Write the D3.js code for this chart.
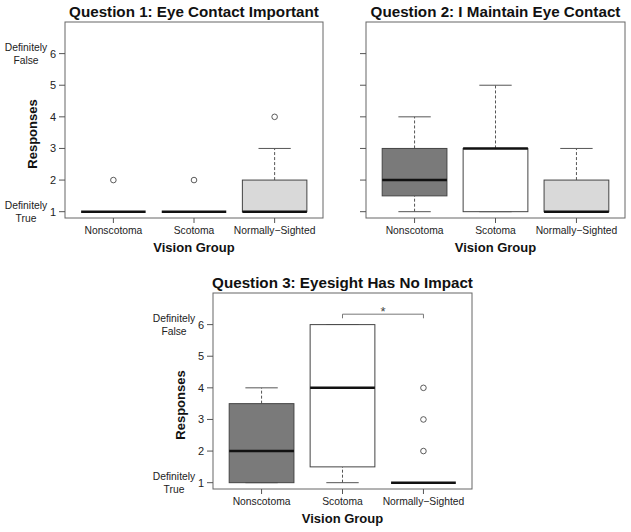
<!DOCTYPE html>
<html>
<head>
<meta charset="utf-8">
<script src="https://cdn.jsdelivr.net/npm/d3@7"></script>
<style>
  body { margin: 0; background: #fff; }
  svg { display: block; font-family: "Liberation Sans", Arial, sans-serif; }
</style>
</head>
<body>
<svg id="chart" width="631" height="532"></svg>
<script>
// groups and fills
const groups = ["Nonscotoma", "Scotoma", "Normally\u2212Sighted"];
const groupFills = ["#7a7a7a", "#ffffff", "#d9d9d9"];
const yTicks = [1, 2, 3, 4, 5, 6];

// box stats per group: [lower whisker, Q1, median, Q3, upper whisker]
const q1Stats = [[1, 1, 1, 1, 1], [1, 1, 1, 1, 1], [1, 1, 1, 2, 3]];
const q1Outliers = [[2], [2], [4]];
const q2Stats = [[1, 1.5, 2, 3, 4], [1, 1, 3, 3, 5], [1, 1, 1, 2, 3]];
const q2Outliers = [[], [], []];
const q3Stats = [[1, 1, 2, 3.5, 4], [1, 1.5, 4, 6, 6], [1, 1, 1, 1, 1]];
const q3Outliers = [[], [], [2, 3, 4]];

const titles = [
    "Question 1: Eye Contact Important",
    "Question 2: I Maintain Eye Contact",
    "Question 3: Eyesight Has No Impact"
];

const svg = d3.select('#chart');

const panels = [
    {title: titles[0], stats: q1Stats, outliers: q1Outliers, left: 65, top: 22, right: 323, bottom: 218, labels: true},
    {title: titles[1], stats: q2Stats, outliers: q2Outliers, left: 366, top: 22, right: 625, bottom: 218, labels: false},
    {title: titles[2], stats: q3Stats, outliers: q3Outliers, left: 213, top: 293, right: 472, bottom: 489, labels: true, bracket: [2, 3]}
];

const drawPanel = (p) => {
    const g = svg.append('g');
    const x = d3.scaleLinear().domain([0.4, 3.6]).range([p.left, p.right]);
    const y = d3.scaleLinear().domain([0.8, 7]).range([p.bottom, p.top]);
    const bw = x(1.8) - x(1);   // box width (0.8 units)
    const cx = (d, i) => x(i + 1);

    // boxes
    g.selectAll('g.box')
        .data(p.stats)
        .enter()
        .append('g')
        .attr('class', 'box')
        .each(function(d, i) {
            const gg = d3.select(this);
            const c = cx(d, i);
            // whiskers
            [[d[0], d[1]], [d[3], d[4]]].forEach(w => {
                gg.append('line')
                    .attr('x1', c).attr('x2', c)
                    .attr('y1', y(w[0])).attr('y2', y(w[1]))
                    .attr('stroke', '#555')
                    .attr('stroke-dasharray', '3,2');
            });
            [d[0], d[4]].forEach(v => {
                gg.append('line')
                    .attr('x1', c - bw / 4).attr('x2', c + bw / 4)
                    .attr('y1', y(v)).attr('y2', y(v))
                    .attr('stroke', '#555');
            });
            gg.append('rect')
                .attr('x', c - bw / 2)
                .attr('y', y(d[3]))
                .attr('width', bw)
                .attr('height', y(d[1]) - y(d[3]))
                .attr('fill', groupFills[i])
                .attr('stroke', '#444')
                .attr('stroke-width', 1);
            gg.append('line')
                .attr('x1', c - bw / 2).attr('x2', c + bw / 2)
                .attr('y1', y(d[2])).attr('y2', y(d[2]))
                .attr('stroke', '#111')
                .attr('stroke-width', 2.5);
            p.outliers[i].forEach(o => {
                gg.append('circle')
                    .attr('cx', c).attr('cy', y(o))
                    .attr('r', 2.8)
                    .attr('fill', 'none')
                    .attr('stroke', '#333')
                    .attr('stroke-width', 0.8);
            });
        });

    // frame
    g.append('rect')
        .attr('x', p.left).attr('y', p.top)
        .attr('width', p.right - p.left).attr('height', p.bottom - p.top)
        .attr('fill', 'none')
        .attr('stroke', '#666');

    // x axis
    const xa = g.append('g').attr('font-size', '10.3px').attr('fill', '#222');
    groups.forEach((name, i) => {
        xa.append('line')
            .attr('x1', x(i + 1)).attr('x2', x(i + 1))
            .attr('y1', p.bottom).attr('y2', p.bottom + 5)
            .attr('stroke', '#555');
        xa.append('text')
            .attr('x', x(i + 1)).attr('y', p.bottom + 16)
            .attr('text-anchor', 'middle')
            .text(name);
    });

    // y axis
    const ya = g.append('g').attr('font-size', '10.3px').attr('fill', '#222');
    yTicks.forEach(t => {
        ya.append('line')
            .attr('x1', p.left - 6).attr('x2', p.left)
            .attr('y1', y(t)).attr('y2', y(t))
            .attr('stroke', '#555');
        if (p.labels) {
            ya.append('text')
                .attr('x', p.left - 9).attr('y', y(t))
                .attr('dy', '0.36em')
                .attr('text-anchor', 'end')
                .attr('font-size', '11px')
                .text(t);
        }
    });

    if (p.labels) {
        [[6, 'Definitely', 'False'], [1, 'Definitely', 'True']].forEach(a => {
            const t = ya.append('text')
                .attr('x', p.left - 39)
                .attr('y', y(a[0]) - 6)
                .attr('text-anchor', 'middle');
            t.append('tspan').attr('x', p.left - 39).attr('dy', '0.36em').text(a[1]);
            t.append('tspan').attr('x', p.left - 39).attr('dy', '1.2em').text(a[2]);
        });
        g.append('text')
            .attr('transform', `translate(${p.left - 28},${(p.top + p.bottom) / 2 + 14}) rotate(-90)`)
            .attr('text-anchor', 'middle')
            .attr('font-weight', 'bold')
            .attr('font-size', '13px')
            .attr('fill', '#111')
            .text('Responses');
    }

    g.append('text')
        .attr('x', (p.left + p.right) / 2)
        .attr('y', p.bottom + 34)
        .attr('text-anchor', 'middle')
        .attr('font-weight', 'bold')
        .attr('font-size', '13px')
        .attr('fill', '#111')
        .text('Vision Group');

    g.append('text')
        .attr('x', (p.left + p.right) / 2)
        .attr('y', p.top - 5)
        .attr('text-anchor', 'middle')
        .attr('font-weight', 'bold')
        .attr('font-size', '15.2px')
        .attr('fill', '#111')
        .text(p.title);

    // significance bracket
    if (p.bracket) {
        const bx1 = x(p.bracket[0]), bx2 = x(p.bracket[1]);
        g.append('path')
            .attr('d', `M${bx1},${y(6.2)}V${y(6.33)}H${bx2}V${y(6.2)}`)
            .attr('fill', 'none')
            .attr('stroke', '#777');
        g.append('text')
            .attr('x', (bx1 + bx2) / 2)
            .attr('y', y(6.33) + 2)
            .attr('text-anchor', 'middle')
            .attr('font-size', '13px')
            .attr('fill', '#444')
            .text('*');
    }
    return g;
};

panels.forEach(drawPanel);
</script>
</body>
</html>
